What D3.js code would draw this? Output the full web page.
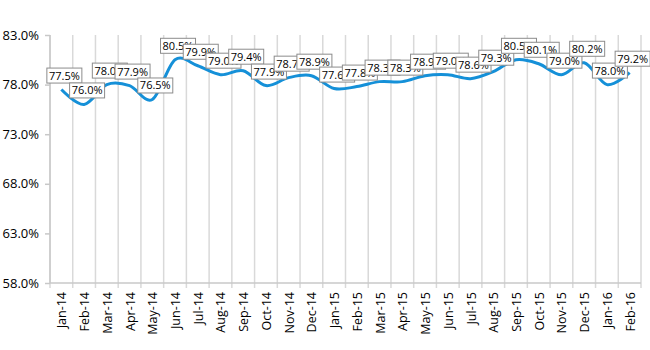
<!DOCTYPE html>
<html>
<head>
<meta charset="utf-8">
<script src="https://cdn.jsdelivr.net/npm/d3@7"></script>
<style>
  html, body { margin: 0; padding: 0; background: #fff; }
  svg { display: block; }
</style>
</head>
<body>
<svg id="chart" width="650" height="350"></svg>
<script>
const months = ["Jan-14","Feb-14","Mar-14","Apr-14","May-14","Jun-14","Jul-14","Aug-14","Sep-14","Oct-14","Nov-14","Dec-14",
  "Jan-15","Feb-15","Mar-15","Apr-15","May-15","Jun-15","Jul-15","Aug-15","Sep-15","Oct-15","Nov-15","Dec-15","Jan-16","Feb-16"];
const values = [77.5,76.0,78.0,77.9,76.5,80.5,79.9,79.0,79.4,77.9,78.7,78.9,
  77.6,77.8,78.3,78.3,78.9,79.0,78.6,79.3,80.5,80.1,79.0,80.2,78.0,79.2];
const yTicks = [58,63,68,73,78,83];

const svg = d3.select("#chart");
const pL = 50, pR = 641, pT = 35, pB = 283;

const x = d3.scaleBand().domain(months).range([pL, pR]).paddingInner(0).paddingOuter(0);
const y = d3.scaleLinear().domain([58, 83]).range([pB, pT]);

// vertical gridlines at category boundaries
const bounds = months.map(m => x(m)).concat([pR]);
svg.append("g").selectAll("line").data(bounds).join("line")
  .attr("x1", d => d).attr("x2", d => d)
  .attr("y1", pT).attr("y2", pB + 5)
  .attr("stroke", "#d9d9d9").attr("stroke-width", 1.5);

// bottom axis line
svg.append("line").attr("x1", pL).attr("x2", pR).attr("y1", pB).attr("y2", pB)
  .attr("stroke", "#c8c8c8").attr("stroke-width", 1.5);
// left axis line
svg.append("line").attr("x1", pL).attr("x2", pL).attr("y1", pT).attr("y2", pB)
  .attr("stroke", "#c8c8c8").attr("stroke-width", 1.5);

// y axis ticks + labels
const yAxis = d3.axisLeft(y).tickValues(yTicks).tickSize(5).tickPadding(6).tickFormat(d => d.toFixed(1) + "%");
const gy = svg.append("g").attr("transform", `translate(${pL},0)`).call(yAxis);
gy.select(".domain").remove();
gy.selectAll(".tick line").attr("stroke", "#c8c8c8").attr("stroke-width", 1.5);
gy.selectAll(".tick text").attr("font-family", "'Open Sans', sans-serif").attr("font-size", 13).attr("fill", "#000");

// x axis labels
const xAxis = d3.axisBottom(x).tickSize(0).tickPadding(0);
const gx = svg.append("g").attr("transform", `translate(0,${pB})`).call(xAxis);
gx.select(".domain").remove();
gx.selectAll(".tick text")
  .attr("font-family", "'Open Sans', sans-serif").attr("font-size", 12.5).attr("fill", "#000")
  .attr("text-anchor", "end")
  .attr("dy", null)
  .attr("transform", "translate(5,9) rotate(-90)");

// smooth line
const line = d3.line()
  .x((d, i) => x(months[i]) + x.bandwidth() / 2)
  .y(d => y(d))
  .curve(d3.curveCardinal.tension(0));
svg.append("path").datum(values)
  .attr("d", line)
  .attr("fill", "none")
  .attr("stroke", "#1590d8")
  .attr("stroke-width", 3);

// data labels
const lg = svg.append("g");
values.forEach((v, i) => {
  const cx = x(months[i]) + x.bandwidth() / 2 + 3;
  const cy = y(v) - 14;
  const g = lg.append("g");
  g.append("text")
    .attr("x", cx).attr("y", cy + 4)
    .attr("text-anchor", "middle")
    .attr("font-family", "'Open Sans', sans-serif")
    .attr("font-size", 11)
    .attr("fill", "#000")
    .text(v.toFixed(1) + "%");
  const w = 35, h = 15;
  g.insert("rect", "text")
    .attr("x", cx - w / 2).attr("y", cy - h / 2)
    .attr("width", w).attr("height", h)
    .attr("fill", "#fff").attr("stroke", "#8c8c8c").attr("stroke-width", 1);
});
</script>
</body>
</html>
